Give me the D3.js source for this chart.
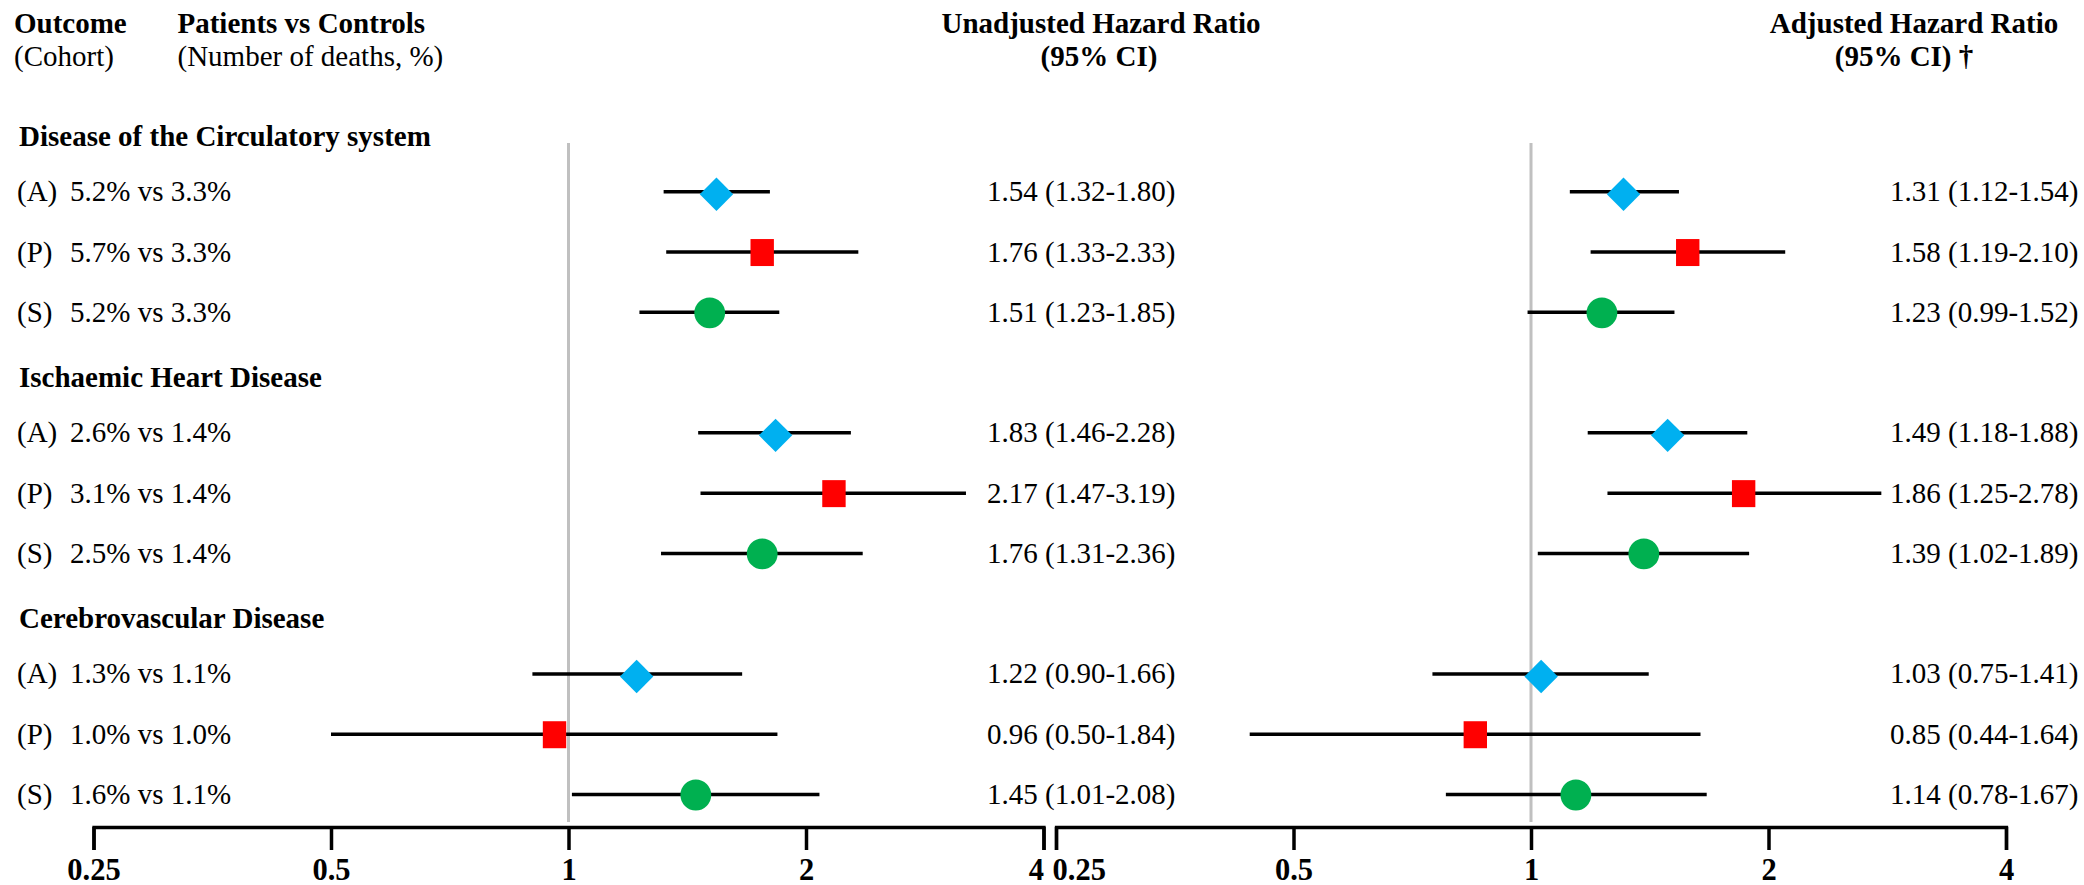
<!DOCTYPE html>
<html>
<head>
<meta charset="utf-8">
<script src="https://cdn.jsdelivr.net/npm/d3@7"></script>
<style>
  html, body { margin: 0; padding: 0; background: #fff; }
  svg { display: block; }
  text { font-family: "Liberation Serif", "Times New Roman", serif; fill: #000; }
</style>
</head>
<body>
<svg id="chart" width="2084" height="885"></svg>
<script>
// Outcome groups and cohorts
const outcomes = ["Disease of the Circulatory system", "Ischaemic Heart Disease", "Cerebrovascular Disease"];
const cohorts = ["A", "P", "S"];

// Deaths (%) per row: patients vs controls
const patientsPct = ["5.2%", "5.7%", "5.2%", "2.6%", "3.1%", "2.5%", "1.3%", "1.0%", "1.6%"];
const controlsPct = ["3.3%", "3.3%", "3.3%", "1.4%", "1.4%", "1.4%", "1.1%", "1.0%", "1.1%"];

// Unadjusted hazard ratios with 95% CI
const unadjHR = [1.54, 1.76, 1.51, 1.83, 2.17, 1.76, 1.22, 0.96, 1.45];
const unadjLo = [1.32, 1.33, 1.23, 1.46, 1.47, 1.31, 0.90, 0.50, 1.01];
const unadjHi = [1.80, 2.33, 1.85, 2.28, 3.19, 2.36, 1.66, 1.84, 2.08];

// Adjusted hazard ratios with 95% CI
const adjHR = [1.31, 1.58, 1.23, 1.49, 1.86, 1.39, 1.03, 0.85, 1.14];
const adjLo = [1.12, 1.19, 0.99, 1.18, 1.25, 1.02, 0.75, 0.44, 0.78];
const adjHi = [1.54, 2.10, 1.52, 1.88, 2.78, 1.89, 1.41, 1.64, 1.67];

// Axis ticks
const tickValues = [0.25, 0.5, 1, 2, 4];
const tickLabels = ["0.25", "0.5", "1", "2", "4"];

const markerColor = { A: "#00B0F0", P: "#FF0000", S: "#00B050" };

const svg = d3.select("#chart");

// Layout slots: each outcome heading followed by its three cohort rows
const slots = [];
outcomes.forEach((o, gi) => {
  slots.push({ type: "heading", id: "h" + gi, label: o });
  cohorts.forEach((c, ci) => {
    const i = gi * 3 + ci;
    slots.push({ type: "row", id: "r" + i, i, cohort: c });
  });
});
const y = d3.scalePoint().domain(slots.map(s => s.id)).range([131.5, 794.5]);
const rows = slots.filter(s => s.type === "row");

const xL = d3.scaleLog().base(2).domain([0.25, 4]).range([93.5, 1043.5]);
const xR = d3.scaleLog().base(2).domain([0.25, 4]).range([1056, 2006]);
const axisY = 827;

// Column headers
const hdr = svg.append("g").attr("font-size", 29);
hdr.append("text").attr("x", 14).attr("y", 33).attr("font-weight", "bold").text("Outcome");
hdr.append("text").attr("x", 14).attr("y", 66).text("(Cohort)");
hdr.append("text").attr("x", 177.5).attr("y", 33).attr("font-weight", "bold").text("Patients vs Controls");
hdr.append("text").attr("x", 177.5).attr("y", 66).text("(Number of deaths, %)");
hdr.append("text").attr("x", 1101).attr("y", 33).attr("text-anchor", "middle").attr("font-weight", "bold").text("Unadjusted Hazard Ratio");
hdr.append("text").attr("x", 1099).attr("y", 66).attr("text-anchor", "middle").attr("font-weight", "bold").text("(95% CI)");
hdr.append("text").attr("x", 1914).attr("y", 33).attr("text-anchor", "middle").attr("font-weight", "bold").text("Adjusted Hazard Ratio");
hdr.append("text").attr("x", 1904).attr("y", 66).attr("text-anchor", "middle").attr("font-weight", "bold").text("(95% CI) \u2020");

// Outcome headings
svg.append("g").attr("font-size", 29).attr("font-weight", "bold")
  .selectAll("text").data(slots.filter(s => s.type === "heading")).join("text")
  .attr("x", 19).attr("y", d => y(d.id) + 14.5).text(d => d.label);

// Row labels
const lab = svg.append("g").attr("font-size", 29);
lab.selectAll("text.coh").data(rows).join("text").attr("class", "coh")
  .attr("x", 17).attr("y", d => y(d.id) + 9.5).text(d => `(${d.cohort})`);
lab.selectAll("text.pct").data(rows).join("text").attr("class", "pct")
  .attr("x", 70).attr("y", d => y(d.id) + 9.5).text(d => `${patientsPct[d.i]} vs ${controlsPct[d.i]}`);

// Reference lines at HR = 1
[xL, xR].forEach(x => {
  svg.append("line").attr("x1", x(1)).attr("x2", x(1)).attr("y1", 143).attr("y2", 822)
    .attr("stroke", "#c0c0c0").attr("stroke-width", 3);
});

function panel(x, hr, lo, hi, textX) {
  const g = svg.append("g");
  g.selectAll("line.ci").data(rows).join("line").attr("class", "ci")
    .attr("x1", d => x(lo[d.i])).attr("x2", d => x(hi[d.i]))
    .attr("y1", d => y(d.id)).attr("y2", d => y(d.id))
    .attr("stroke", "#000").attr("stroke-width", 3.5);

  g.selectAll("path.mk").data(rows).join("path").attr("class", "mk")
    .attr("transform", d => {
      const t = `translate(${x(hr[d.i])},${y(d.id) + (d.cohort === "A" ? 2.5 : 0.5)})`;
      return d.cohort === "A" ? t + " rotate(45)" : t;
    })
    .attr("d", d => {
      if (d.cohort === "A") return d3.symbol(d3.symbolSquare, 556)();
      if (d.cohort === "S") return d3.symbol(d3.symbolCircle, Math.PI * 15.4 * 15.4)();
      return "M-11.7,-13.5H11.7V13.5H-11.7Z";
    })
    .attr("fill", d => markerColor[d.cohort]);

  g.selectAll("text.val").data(rows).join("text").attr("class", "val")
    .attr("x", textX).attr("y", d => y(d.id) + 9.5).attr("font-size", 29)
    .text(d => `${hr[d.i].toFixed(2)} (${lo[d.i].toFixed(2)}-${hi[d.i].toFixed(2)})`);
}
panel(xL, unadjHR, unadjLo, unadjHi, 987);
panel(xR, adjHR, adjLo, adjHi, 1890);

// Log-2 axes
function drawAxis(x, side) {
  const g = svg.append("g").attr("transform", `translate(0,${axisY})`)
    .call(d3.axisBottom(x).tickValues(tickValues)
      .tickFormat((d, i) => tickLabels[i]).tickSize(23).tickSizeOuter(23).tickPadding(8));
  g.select(".domain").attr("stroke", "#000").attr("stroke-width", 3.3);
  g.selectAll(".tick line").attr("stroke", "#000").attr("stroke-width", 3.5);
  g.selectAll(".tick text")
    .attr("font-family", "Liberation Serif, Times New Roman, serif")
    .attr("font-size", 30.5).attr("font-weight", "bold").attr("fill", "#000")
    .attr("text-anchor", (d, i) => {
      if (side === "left" && i === tickValues.length - 1) return "end";
      if (side === "right" && i === 0) return "start";
      return "middle";
    })
    .attr("dx", (d, i) => (side === "right" && i === 0) ? -4 : 0);
}
drawAxis(xL, "left");
drawAxis(xR, "right");
</script>
</body>
</html>
